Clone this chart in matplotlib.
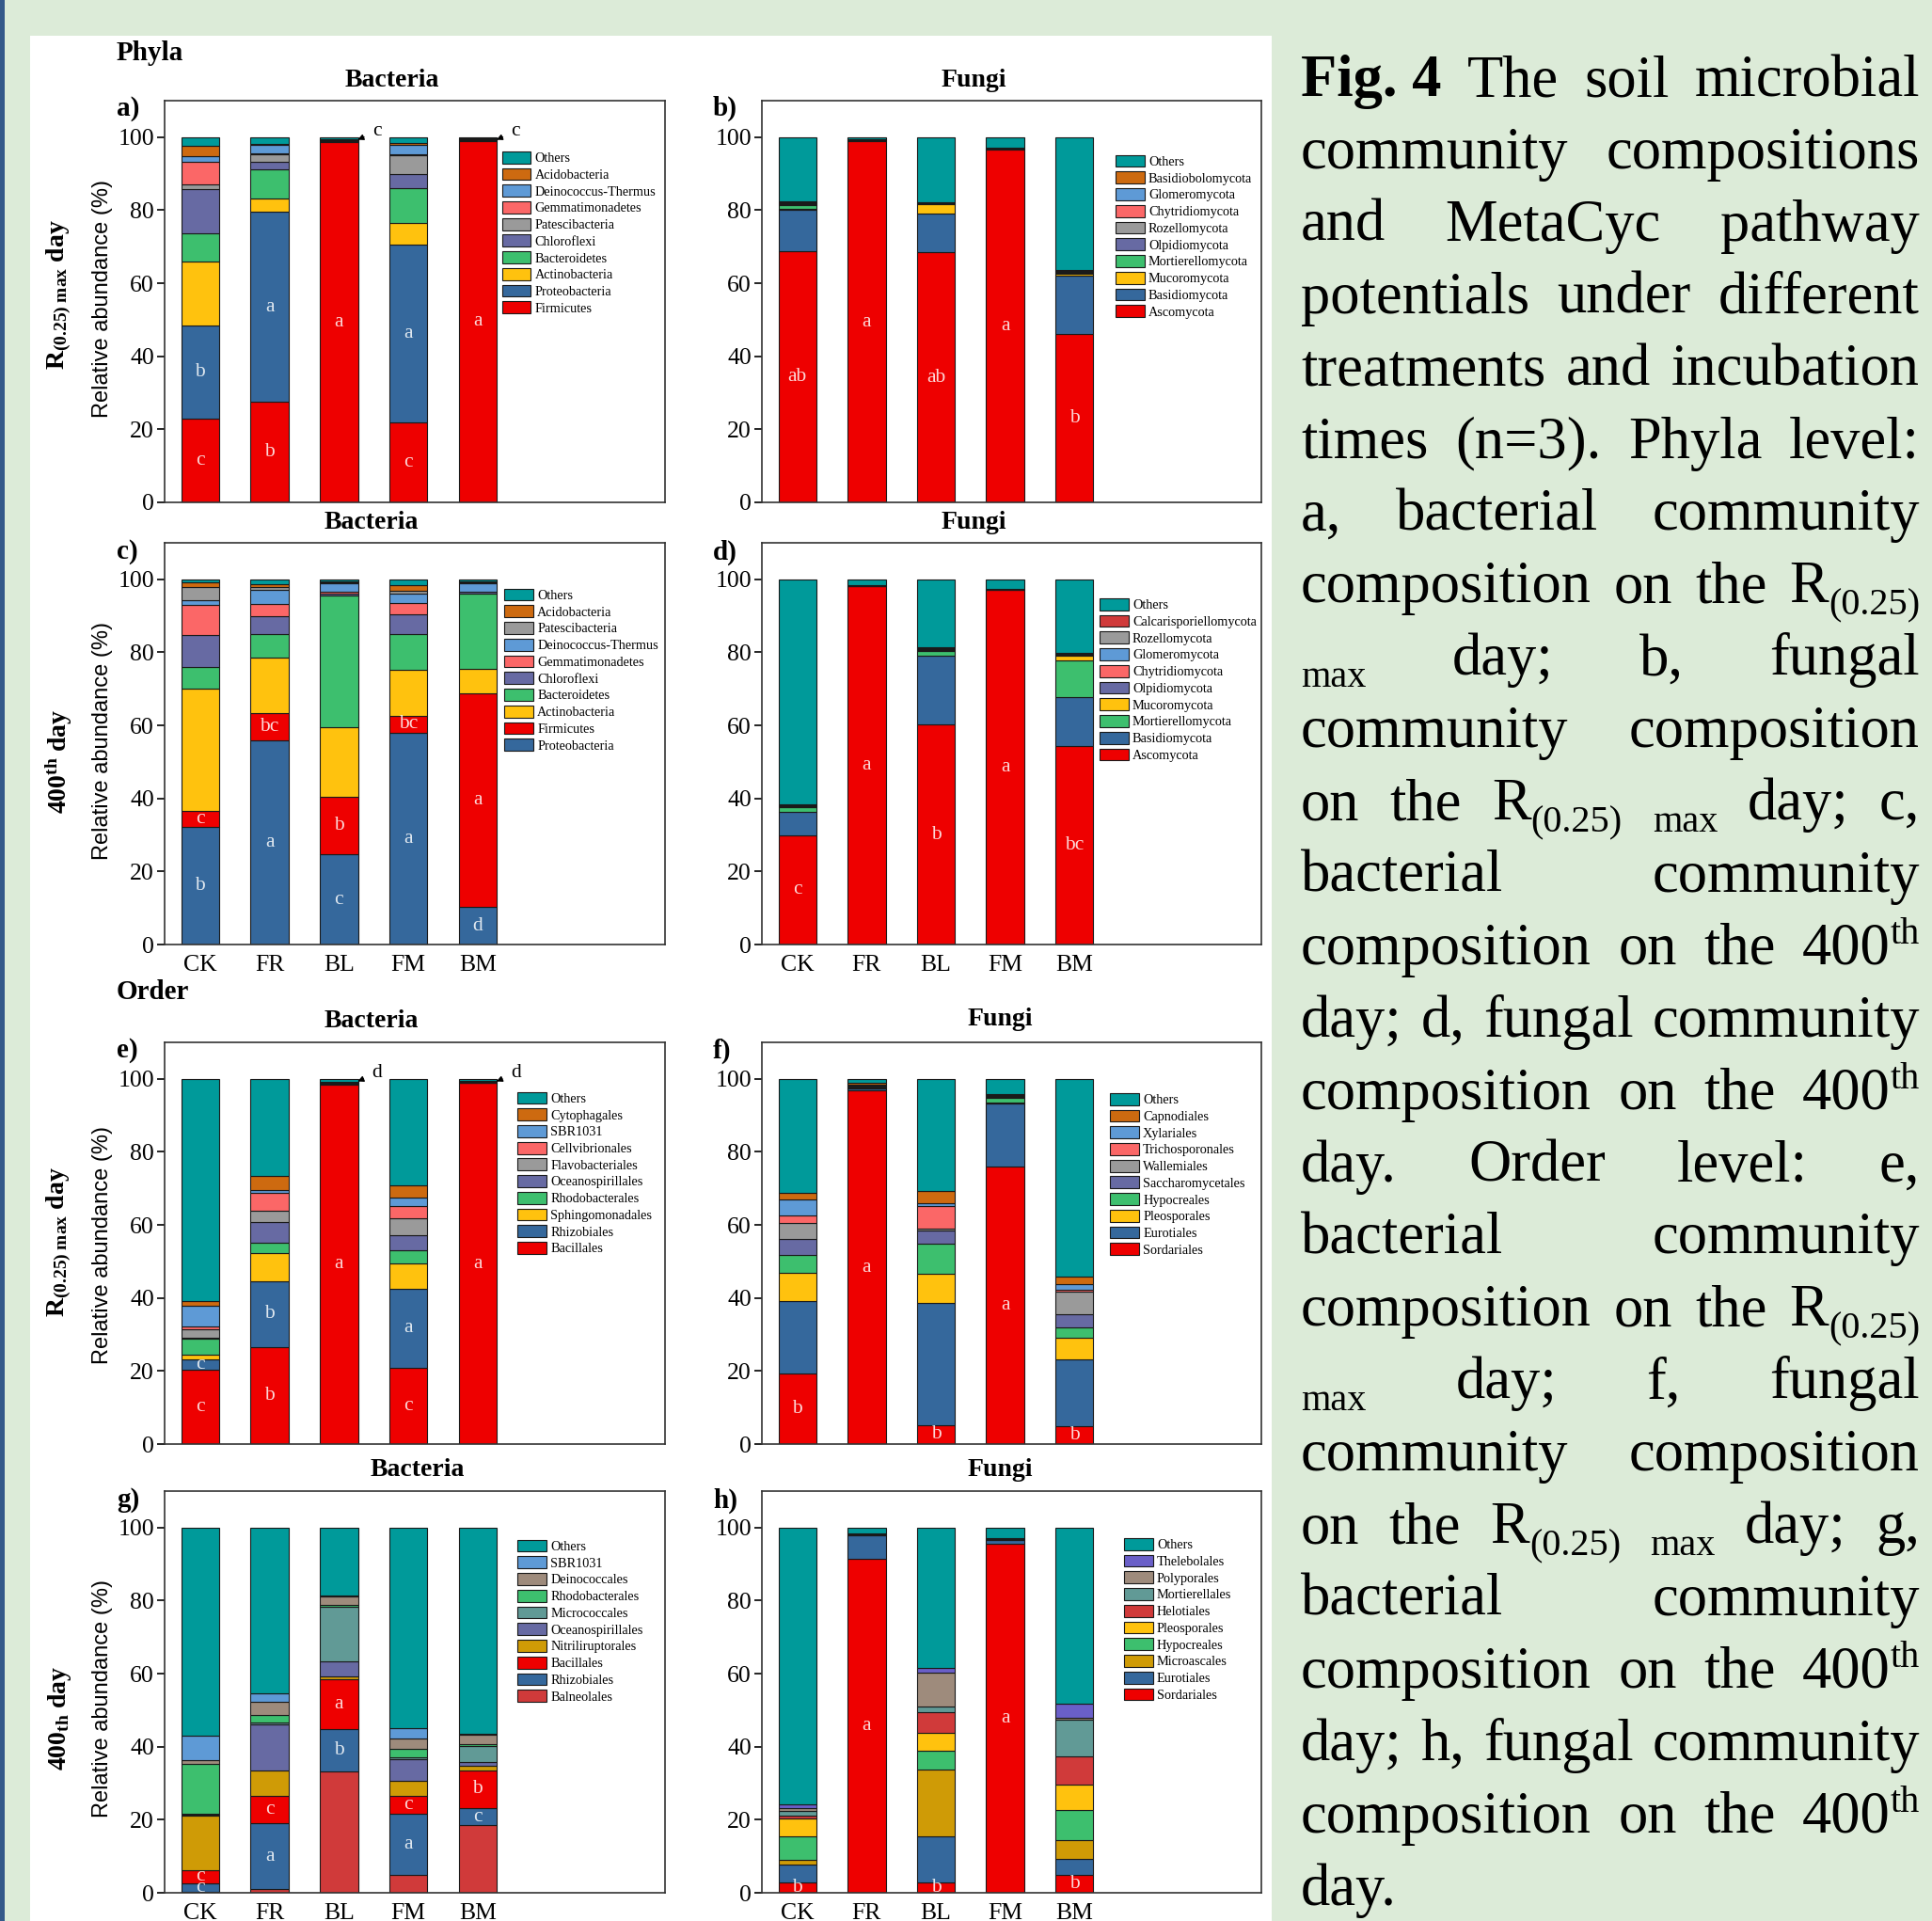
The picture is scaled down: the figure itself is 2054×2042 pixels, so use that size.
import re
import numpy as np
import matplotlib
matplotlib.use('Agg')
import matplotlib.pyplot as plt
import matplotlib.patches as mpatches
from matplotlib.transforms import IdentityTransform

plt.rcParams['font.family'] = 'Liberation Serif'
plt.rcParams['mathtext.fontset'] = 'custom'
plt.rcParams['mathtext.rm'] = 'Liberation Serif'
plt.rcParams['mathtext.bf'] = 'Liberation Serif:bold'
plt.rcParams['mathtext.it'] = 'Liberation Serif:italic'

W, H = 2054, 2042
treatments = ['CK', 'FR', 'BL', 'FM', 'BM']

# palette
teal = '#009a9a'; orange = '#cd6a10'; lblue = '#5e9ad6'; salmon = '#fb6767'
grey = '#9a9a9a'; purple = '#676aa3'; green = '#3dbf6e'; yellow = '#ffc20e'
sblue = '#35689c'; red = '#ee0000'; dred = '#d03a3a'; ochre = '#cf9b06'
brown = '#9e8b7c'; gteal = '#619a96'; pblue = '#6a5fc8'

# ---- a) phyla, bacteria, R(0.25)max day  (stack order bottom -> top)
a_names = ['Firmicutes', 'Proteobacteria', 'Actinobacteria', 'Bacteroidetes', 'Chloroflexi',
           'Patescibacteria', 'Gemmatimonadetes', 'Deinococcus-Thermus', 'Acidobacteria', 'Others']
a_values = [[22.9, 27.6, 98.7, 21.8, 99.0],
            [25.6, 51.9, 0.3, 48.8, 0.3],
            [17.5, 3.7, 0.2, 6.0, 0.1],
            [7.8, 8.1, 0.1, 9.4, 0.1],
            [12.0, 2.0, 0.05, 4.0, 0.05],
            [1.2, 2.0, 0.05, 5.0, 0.05],
            [6.3, 0.4, 0.05, 0.4, 0.05],
            [1.5, 2.1, 0.05, 2.6, 0.05],
            [2.8, 0.4, 0.05, 0.5, 0.05],
            [2.4, 1.8, 0.45, 1.5, 0.25]]
a_colors = [red, sblue, yellow, green, purple, grey, salmon, lblue, orange, teal]
a_letters = [('Firmicutes', ['c', 'b', 'a', 'c', 'a']),
             ('Proteobacteria', ['b', 'a', 'c', 'a', 'c'])]

# ---- b) phyla, fungi, R(0.25)max day
b_names = ['Ascomycota', 'Basidiomycota', 'Mucoromycota', 'Mortierellomycota', 'Olpidiomycota',
           'Rozellomycota', 'Chytridiomycota', 'Glomeromycota', 'Basidiobolomycota', 'Others']
b_values = [[68.7, 98.8, 68.5, 96.6, 46.0],
            [11.5, 0.3, 10.5, 0.3, 16.2],
            [0.2, 0.05, 2.6, 0.05, 0.3],
            [1.0, 0.05, 0.2, 0.1, 0.4],
            [0.2, 0.05, 0.1, 0.05, 0.2],
            [0.3, 0.05, 0.1, 0.05, 0.3],
            [0.2, 0.05, 0.05, 0.05, 0.1],
            [0.2, 0.05, 0.05, 0.0, 0.1],
            [0.2, 0.05, 0.0, 0.0, 0.1],
            [17.5, 0.55, 17.9, 2.8, 36.3]]
b_colors = [red, sblue, yellow, green, purple, grey, salmon, lblue, orange, teal]
b_letters = [('Ascomycota', ['ab', 'a', 'ab', 'a', 'b'])]

# ---- c) phyla, bacteria, 400th day
c_names = ['Proteobacteria', 'Firmicutes', 'Actinobacteria', 'Bacteroidetes', 'Chloroflexi',
           'Gemmatimonadetes', 'Deinococcus-Thermus', 'Patescibacteria', 'Acidobacteria', 'Others']
c_values = [[32.3, 55.9, 24.7, 57.9, 10.3],
            [4.2, 7.6, 15.7, 4.8, 58.5],
            [33.5, 15.1, 19.2, 12.4, 6.6],
            [6.0, 6.5, 36.1, 9.9, 20.7],
            [8.8, 4.9, 0.5, 5.4, 0.4],
            [8.3, 3.3, 0.3, 3.0, 0.2],
            [1.1, 3.7, 2.5, 2.8, 2.3],
            [3.7, 0.9, 0.2, 0.6, 0.2],
            [1.2, 0.8, 0.2, 1.5, 0.3],
            [0.9, 1.3, 0.6, 1.7, 0.5]]
c_colors = [sblue, red, yellow, green, purple, salmon, lblue, grey, orange, teal]
c_letters = [('Proteobacteria', ['b', 'a', 'c', 'a', 'd']),
             ('Firmicutes', ['c', 'bc', 'b', 'bc', 'a'])]

# ---- d) phyla, fungi, 400th day
d_names = ['Ascomycota', 'Basidiomycota', 'Mortierellomycota', 'Mucoromycota', 'Olpidiomycota',
           'Chytridiomycota', 'Glomeromycota', 'Rozellomycota', 'Calcarisporiellomycota', 'Others']
d_values = [[29.9, 98.1, 60.2, 97.1, 54.3],
            [6.4, 0.1, 18.9, 0.1, 13.5],
            [1.3, 0.05, 1.4, 0.05, 9.9],
            [0.2, 0.05, 0.2, 0.05, 1.4],
            [0.2, 0.0, 0.2, 0.0, 0.2],
            [0.1, 0.0, 0.1, 0.0, 0.1],
            [0.1, 0.0, 0.2, 0.0, 0.1],
            [0.3, 0.0, 0.3, 0.0, 0.2],
            [0.0, 0.0, 0.0, 0.0, 0.1],
            [61.5, 1.7, 18.5, 2.7, 20.2]]
d_colors = [red, sblue, green, yellow, purple, salmon, lblue, grey, dred, teal]
d_letters = [('Ascomycota', ['c', 'a', 'b', 'a', 'bc'])]

# ---- e) order, bacteria, R(0.25)max day
e_names = ['Bacillales', 'Rhizobiales', 'Sphingomonadales', 'Rhodobacterales', 'Oceanospirillales',
           'Flavobacteriales', 'Cellvibrionales', 'SBR1031', 'Cytophagales', 'Others']
e_values = [[20.4, 26.6, 98.5, 20.9, 98.9],
            [2.8, 18.0, 0.2, 21.6, 0.1],
            [1.3, 7.8, 0.1, 6.9, 0.05],
            [4.4, 2.8, 0.1, 3.7, 0.05],
            [0.3, 5.6, 0.1, 4.2, 0.05],
            [2.3, 3.2, 0.1, 4.5, 0.05],
            [0.7, 4.8, 0.05, 3.4, 0.05],
            [5.7, 0.7, 0.05, 2.4, 0.05],
            [1.3, 3.9, 0.1, 3.2, 0.1],
            [60.8, 26.6, 0.7, 29.2, 0.6]]
e_colors = [red, sblue, yellow, green, purple, grey, salmon, lblue, orange, teal]
e_letters = [('Bacillales', ['c', 'b', 'a', 'c', 'a']),
             ('Rhizobiales', ['c', 'b', 'd', 'a', 'd'])]

# ---- f) order, fungi, R(0.25)max day
f_names = ['Sordariales', 'Eurotiales', 'Pleosporales', 'Hypocreales', 'Saccharomycetales',
           'Wallemiales', 'Trichosporonales', 'Xylariales', 'Capnodiales', 'Others']
f_values = [[19.3, 96.8, 5.2, 76.0, 4.9],
            [19.9, 0.7, 33.4, 17.3, 18.3],
            [7.8, 0.1, 8.0, 0.3, 6.0],
            [4.8, 0.1, 8.3, 1.2, 2.8],
            [4.4, 0.2, 3.5, 0.2, 3.6],
            [4.3, 0.1, 0.7, 0.2, 6.2],
            [2.0, 0.1, 6.1, 0.1, 0.5],
            [4.6, 0.2, 0.8, 0.2, 1.5],
            [1.7, 0.5, 3.3, 0.3, 2.1],
            [31.2, 1.2, 30.7, 4.2, 54.1]]
f_colors = [red, sblue, yellow, green, purple, grey, salmon, lblue, orange, teal]
f_letters = [('Sordariales', ['b', 'a', 'b', 'a', 'b'])]

# ---- g) order, bacteria, 400th day
g_names = ['Balneolales', 'Rhizobiales', 'Bacillales', 'Nitriliruptorales', 'Oceanospirillales',
           'Micrococcales', 'Rhodobacterales', 'Deinococcales', 'SBR1031', 'Others']
g_values = [[0.3, 1.0, 33.2, 4.9, 18.6],
            [2.3, 18.0, 11.7, 16.7, 4.5],
            [3.6, 7.5, 13.7, 5.0, 10.5],
            [14.8, 7.1, 0.6, 4.0, 1.1],
            [0.3, 12.4, 4.1, 6.0, 1.0],
            [0.3, 0.6, 15.1, 0.6, 4.5],
            [13.7, 2.2, 0.4, 2.1, 0.4],
            [1.1, 3.6, 2.3, 2.9, 2.8],
            [6.6, 2.2, 0.2, 3.0, 0.2],
            [57.0, 45.4, 18.7, 54.8, 56.4]]
g_colors = [dred, sblue, red, ochre, purple, gteal, green, brown, lblue, teal]
g_letters = [('Bacillales', ['c', 'c', 'a', 'c', 'b']),
             ('Rhizobiales', ['c', 'a', 'b', 'a', 'c'])]

# ---- h) order, fungi, 400th day
h_names = ['Sordariales', 'Eurotiales', 'Microascales', 'Hypocreales', 'Pleosporales',
           'Helotiales', 'Mortierellales', 'Polyporales', 'Thelebolales', 'Others']
h_values = [[2.9, 91.4, 2.9, 95.5, 4.9],
            [4.8, 6.6, 12.5, 1.2, 4.3],
            [1.3, 0.1, 18.4, 0.1, 5.1],
            [6.4, 0.1, 5.2, 0.1, 8.3],
            [4.9, 0.05, 4.9, 0.05, 7.1],
            [0.7, 0.05, 5.5, 0.05, 7.7],
            [1.5, 0.05, 1.5, 0.05, 9.9],
            [0.7, 0.05, 9.5, 0.05, 0.7],
            [1.1, 0.0, 1.2, 0.0, 3.8],
            [75.7, 1.6, 38.4, 2.9, 48.2]]
h_colors = [red, sblue, ochre, green, yellow, dred, gteal, brown, pblue, teal]
h_letters = [('Sordariales', ['b', 'a', 'b', 'a', 'b'])]

caption_lines = [
    "**Fig.\u00a04** The soil microbial",
    "community compositions",
    "and MetaCyc pathway",
    "potentials under different",
    "treatments and incubation",
    "times (n=3). Phyla level:",
    "a, bacterial community",
    "composition on the R_{(0.25)}",
    "_{max} day; b, fungal",
    "community composition",
    "on the R_{(0.25)} _{max} day; c,",
    "bacterial community",
    "composition on the 400^{th}",
    "day; d, fungal community",
    "composition on the 400^{th}",
    "day. Order level: e,",
    "bacterial community",
    "composition on the R_{(0.25)}",
    "_{max} day; f, fungal",
    "community composition",
    "on the R_{(0.25)} _{max} day; g,",
    "bacterial community",
    "composition on the 400^{th}",
    "day; h, fungal community",
    "composition on the 400^{th}",
    "day.",
]

fig = plt.figure(figsize=(W / 100, H / 100), dpi=100, facecolor='#dcebd8')
fig.add_artist(mpatches.Rectangle((0, 0), 5 / W, 1, transform=fig.transFigure,
                                  facecolor='#34598a', edgecolor='none', zorder=0))
fig.add_artist(mpatches.Rectangle((32 / W, 0), (1352 - 32) / W, 1 - 38 / H, transform=fig.transFigure,
                                  facecolor='white', edgecolor='none', zorder=0))


def px(x, y):
    return x / W, 1 - y / H


def draw_panel(rect, names, values, colors, letters, leg_xy, show_x):
    left, top, right, bot = rect
    ax = fig.add_axes([left / W, 1 - bot / H, (right - left) / W, (bot - top) / H])
    x = np.arange(len(treatments))
    bottom = np.zeros(len(treatments))
    segs = {}
    for name, vals, col in zip(names, values, colors):
        vals = np.array(vals, dtype=float)
        ax.bar(x, vals, 0.55, bottom=bottom, color=col, edgecolor='#1a1a1a',
               linewidth=0.8, label=name)
        segs[name] = (bottom.copy(), vals)
        bottom = bottom + vals
    ax.set_xlim(-0.513, 6.70)
    ax.set_ylim(0, 110)
    ax.set_yticks(range(0, 101, 20))
    ax.set_xticks(x)
    ax.set_xticklabels(treatments if show_x else [])
    ax.tick_params(axis='y', direction='out', length=6, width=1.2, labelsize=18.5, pad=2)
    ax.tick_params(axis='x', length=0, labelsize=18.5, pad=8)
    for s in ax.spines.values():
        s.set_color('#333333')
        s.set_linewidth(1.2)
    hs, ls = ax.get_legend_handles_labels()
    ax.legend(hs[::-1], ls[::-1], loc='upper left', bbox_to_anchor=leg_xy, frameon=False,
              fontsize=10.3, labelspacing=0.24, handlelength=2.15, handleheight=1.0,
              handletextpad=0.3, borderpad=0, borderaxespad=0)
    for name, lets in letters:
        b, v = segs[name]
        for i, l in enumerate(lets):
            if v[i] >= 1:
                ax.text(i, b[i] + v[i] / 2, l, ha='center', va='center', color='white',
                        alpha=0.85, fontsize=15.5)
            else:
                ax.annotate(l, xy=(i + 0.27, 99.3), xytext=(i + 0.55, 101.6), ha='center',
                            va='center', fontsize=15.5,
                            arrowprops=dict(arrowstyle='-|>', color='black', lw=1.0,
                                            mutation_scale=9, shrinkA=5, shrinkB=0))
    return ax


L, R = (175, 707), (810, 1341)
rows = [(107, 534), (577, 1004), (1108, 1535), (1585, 2012)]
draw_panel((L[0], rows[0][0], L[1], rows[0][1]), a_names, a_values, a_colors, a_letters, (0.674, 0.874), False)
draw_panel((R[0], rows[0][0], R[1], rows[0][1]), b_names, b_values, b_colors, b_letters, (0.708, 0.865), False)
draw_panel((L[0], rows[1][0], L[1], rows[1][1]), c_names, c_values, c_colors, c_letters, (0.679, 0.886), True)
draw_panel((R[0], rows[1][0], R[1], rows[1][1]), d_names, d_values, d_colors, d_letters, (0.676, 0.862), True)
draw_panel((L[0], rows[2][0], L[1], rows[2][1]), e_names, e_values, e_colors, e_letters, (0.705, 0.877), False)
draw_panel((R[0], rows[2][0], R[1], rows[2][1]), f_names, f_values, f_colors, f_letters, (0.697, 0.874), False)
draw_panel((L[0], rows[3][0], L[1], rows[3][1]), g_names, g_values, g_colors, g_letters, (0.705, 0.879), True)
draw_panel((R[0], rows[3][0], R[1], rows[3][1]), h_names, h_values, h_colors, h_letters, (0.725, 0.883), True)

# headings and panel labels
fig.text(*px(124, 57), 'Phyla', fontsize=21, fontweight='bold', ha='left', va='center')
fig.text(*px(124, 1055), 'Order', fontsize=21, fontweight='bold', ha='left', va='center')
for (x, y), t in zip([(417, 85), (1035, 85), (395, 555), (1035, 555),
                      (395, 1085), (1063, 1083), (444, 1562), (1063, 1562)],
                     ['Bacteria', 'Fungi'] * 4):
    fig.text(*px(x, y), t, fontsize=20, fontweight='bold', ha='center', va='center')
for (x, y), t in zip([(124, 115), (758, 115), (124, 587), (758, 587),
                      (124, 1117), (758, 1117), (124, 1595), (758, 1595)],
                     ['a)', 'b)', 'c)', 'd)', 'e)', 'f)', 'g)', 'h)']):
    fig.text(*px(x, y), t, fontsize=21, fontweight='bold', ha='left', va='center')

# y labels
for yr, yb, lab in [(317, 313, r'$\mathbf{R_{(0.25)\ max}\ day}$'),
                    (787, 809, r'$\mathbf{400^{th}\ day}$'),
                    (1324, 1320, r'$\mathbf{R_{(0.25)\ max}\ day}$'),
                    (1806, 1826, r'$\mathbf{400_{th}\ day}$')]:
    fig.text(*px(109, yr), 'Relative abundance (%)', family='Liberation Sans', fontsize=17,
             rotation=90, ha='center', va='center')
    fig.text(*px(63, yb), lab, fontsize=20, rotation=90, ha='center', va='center')

# justified caption
renderer = fig.canvas.get_renderer()
cap_left, cap_right = 1383, 2041
cap_top, cap_step = 102, 76.9
fs_main, fs_small = 45, 29
ident = IdentityTransform()


def make_word(word):
    bold = word.startswith('**')
    word = word.strip('*')
    runs = []
    for piece in re.split(r'(\^\{[^}]*\}|_\{[^}]*\})', word):
        if not piece:
            continue
        if piece.startswith('^{'):
            runs.append((piece[2:-1], fs_small, 22))
        elif piece.startswith('_{'):
            runs.append((piece[2:-1], fs_small, -13))
        else:
            runs.append((piece, fs_main, 0))
    arts = []
    for txt, fs, dy in runs:
        t = fig.text(0, 0, txt, fontsize=fs, fontweight='bold' if bold else 'normal',
                     transform=ident, ha='left', va='baseline')
        w = t.get_window_extent(renderer).width
        arts.append((t, w, dy))
    return arts, sum(a[1] for a in arts)


for li, line in enumerate(caption_lines):
    ybase = H - (cap_top + li * cap_step)
    words = [make_word(w) for w in line.split(' ')]
    total = sum(w[1] for w in words)
    if li < len(caption_lines) - 1 and len(words) > 1:
        gap = (cap_right - cap_left - total) / (len(words) - 1)
    else:
        gap = 0.25 * fs_main * 100 / 72
    xcur = cap_left
    for arts, wtot in words:
        xx = xcur
        for t, w, dy in arts:
            t.set_position((xx, ybase + dy))
            xx += w
        xcur += wtot + gap

fig.savefig('out.png', dpi=100, facecolor=fig.get_facecolor())
